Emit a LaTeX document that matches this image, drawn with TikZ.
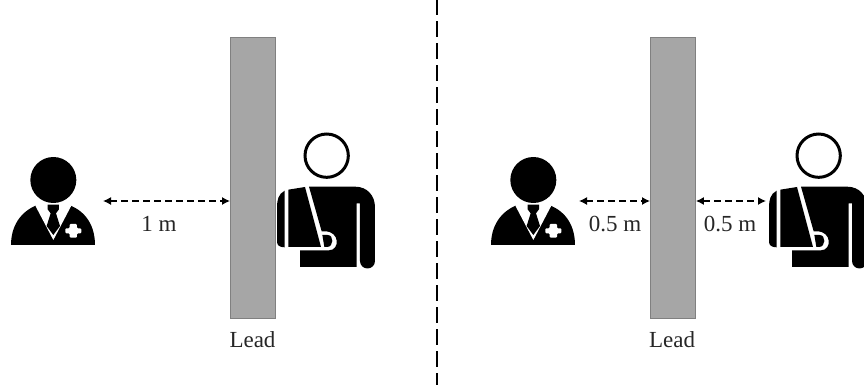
\documentclass[tikz,border=0pt]{standalone}
\usepackage{fontspec}
\setmainfont{Liberation Serif}
\usetikzlibrary{arrows.meta}
\tikzset{
  wall/.style={draw=black!50,line width=0.9pt,fill=black!35,minimum width=45pt,minimum height=281.5pt,inner sep=0pt,anchor=north west},
  lab/.style={font=\fontsize{23pt}{24pt}\selectfont,text=black!85,inner sep=0pt},
  dist/.style={{Latex[length=8pt,width=8pt]}-{Latex[length=8pt,width=8pt]},line width=1.3pt,dash pattern=on 6.5pt off 4.5pt},
  divider/.style={line width=1.4pt,dash pattern=on 16pt off 6pt,dash phase=1pt},
}
\newcommand{\doctorfig}[1]{%
\begin{scope}[shift={(#1,130)},x=0.3333pt,y=-0.3333pt]
  \fill (160,150) circle (69);
  \fill (33,345) .. controls (33,290) and (60,245) .. (112,225) -- (160,325) -- (207,225) .. controls (260,245) and (285,290) .. (285,345) -- cycle;
  \fill[white] (106,227) -- (116,222) -- (160,305) -- (204,222) -- (214,227) -- (160,330) -- cycle;
  \fill (143,224) -- (177,224) -- (177,238) -- (168,250) -- (180,288) -- (160,315) -- (140,288) -- (152,250) -- (143,238) -- cycle;
  \fill[white,rounded corners=1pt] (209,282) -- (231,282) -- (231,295) -- (244,295) -- (244,310) -- (231,310) -- (231,323) -- (209,323) -- (209,310) -- (196,310) -- (196,295) -- (209,295) -- cycle;
\end{scope}}
\newcommand{\patientfig}[1]{%
\begin{scope}[shift={(#1,120)},x=0.3333pt,y=-0.3333pt]
  \draw[line width=3pt] (185,107) circle (65);
  % torso and good arm
  \fill (132,200) -- (270,200) .. controls (308,200) and (330,228) .. (330,262)
        -- (330,423) arc[start angle=0,end angle=-180,x radius=22.5,y radius=-22.5] -- (285,250) -- (275,250)
        -- (275,441) -- (105,441) -- (105,391) -- (192,391)
        .. controls (225,391) and (225,334) .. (180,334) -- (170,334) -- cycle;
  % sling
  \fill (59,212) .. controls (40,222) and (36,240) .. (36,262) -- (36,365) .. controls (36,376) and (44,382) .. (59,382) -- cycle;
  \fill (70,209) -- (120,201) -- (168,381) -- (70,381) -- cycle;
  \fill (172,345) -- (188,345) .. controls (207,345) and (207,381) .. (186,381) -- (178,381) -- cycle;
\end{scope}}
\begin{document}
\begin{tikzpicture}[x=1pt,y=-1pt]
  \useasboundingbox (0,0) rectangle (864,391);
  \clip (0,0) rectangle (864,391);
  \node[wall] (w1) at (230,36.5) {};
  \node[wall] (w2) at (650,36.5) {};
  \coordinate (dtop) at (437,0);
  \coordinate (dbot) at (437,385);
  \draw[divider] (dtop) -- (dbot);
  \doctorfig{0}
  \doctorfig{480}
  \patientfig{265}
  \patientfig{757}
  \coordinate (a1) at (103,201);
  \coordinate (a2) at (w1.west|-a1);
  \coordinate (b1) at (579,201);
  \coordinate (b2) at (w2.west|-a1);
  \coordinate (c1) at (w2.east|-a1);
  \coordinate (c2) at (766,201);
  \draw[dist] (a1) -- (a2);
  \draw[dist] (b1) -- (b2);
  \draw[dist] (c1) -- (c2);
  \node[lab] (l1) at (159,224) {1 m};
  \node[lab] (l2) at (615,224) {0.5 m};
  \node[lab] (l3) at (730,224) {0.5 m};
  \node[lab] (t1) at (252.5,340) {Lead};
  \node[lab] (t2) at (672,340) {Lead};
\end{tikzpicture}
\end{document}
